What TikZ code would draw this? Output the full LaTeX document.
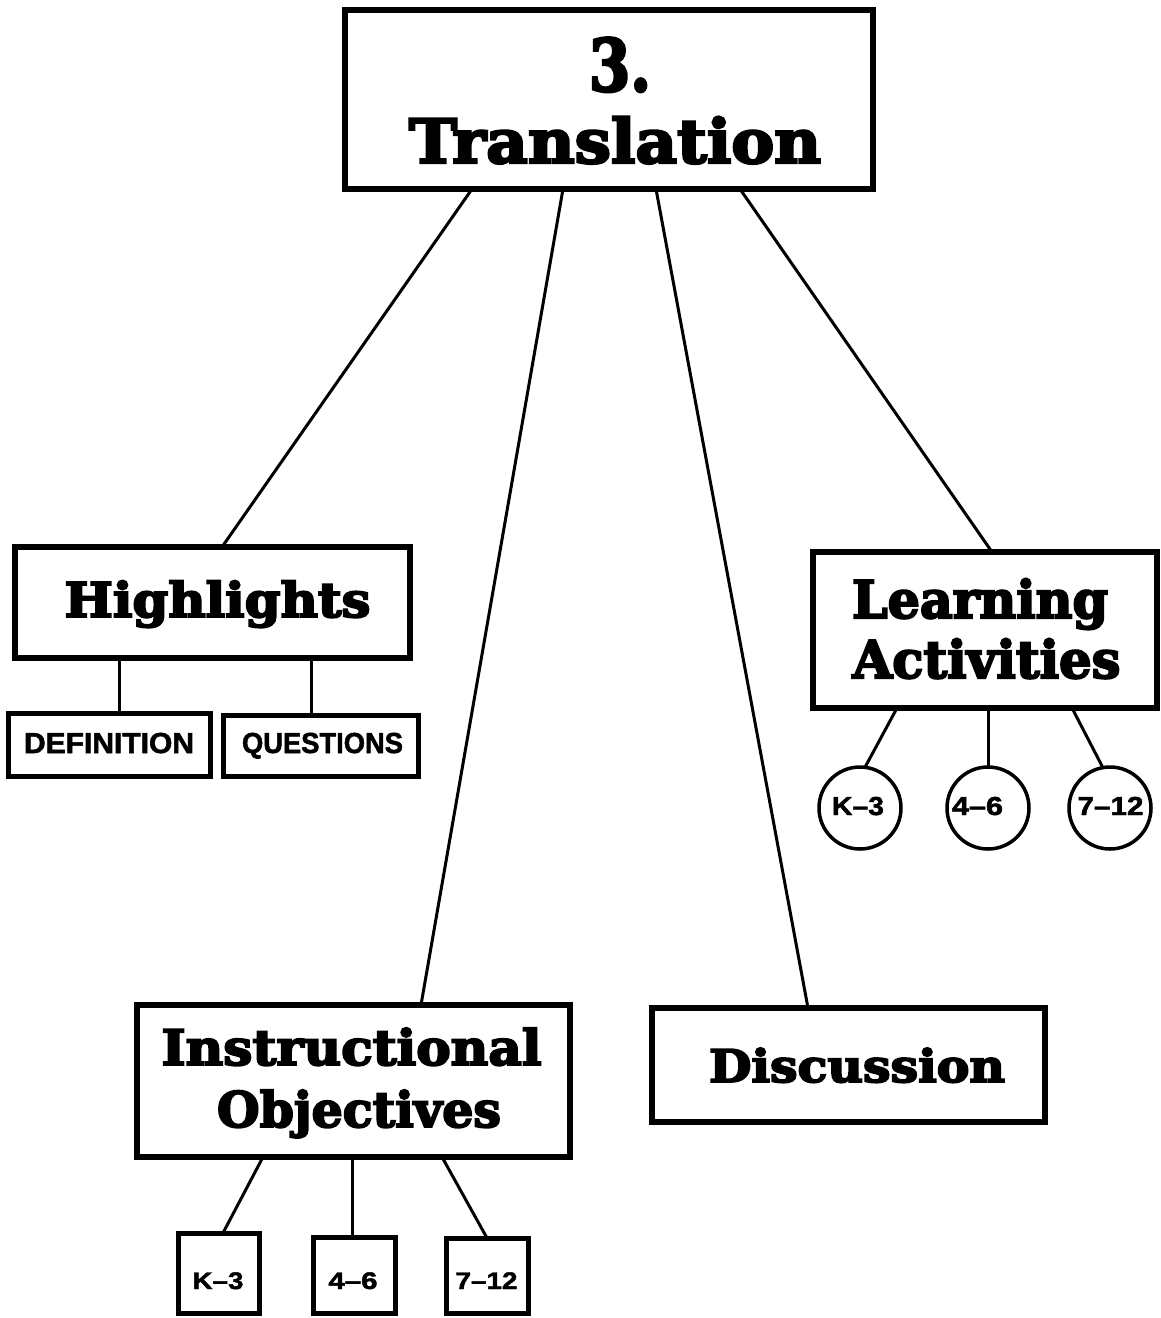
\documentclass[tikz,border=0pt]{standalone}
\usepackage{fontspec}
\usepackage{graphicx}
\usetikzlibrary{fit}
\newfontfamily\heavy{DejaVu Serif}[BoldFeatures={FakeBold=4}]
\newfontfamily\lsans{Liberation Sans}[BoldFeatures={FakeBold=1.8}]
\newcommand{\hv}[3]{\resizebox{#1pt}{\height}{\fontsize{#2}{#2}\selectfont\heavy\bfseries #3}}
\newcommand{\sn}[3]{\resizebox{#1pt}{\height}{\fontsize{#2}{#2}\selectfont\lsans\bfseries #3}}
\begin{document}
\begin{tikzpicture}[x=1pt,y=-1pt,
  box/.style={draw, rectangle, line width=5.5pt, inner sep=0pt, outer sep=0pt},
  sbox/.style={draw, rectangle, line width=5pt, inner sep=0pt, outer sep=0pt},
  circ/.style={draw, circle, line width=3.5pt, minimum size=82pt, inner sep=0pt, outer sep=0pt},
  conn/.style={line width=3pt},
  lbl/.style={inner sep=0pt, outer sep=0pt, anchor=base}]
\fill[white] (0,0) rectangle (1161,1318);
\useasboundingbox (0,0) rectangle (1161,1318);
% boxes
\node[box, fit={(345,10)(873,189)}] (main) {};
\node[box, fit={(15,547)(410,658)}] (hl) {};
\node[sbox, fit={(8,713)(210,776)}] (def) {};
\node[sbox, fit={(223,715)(418,776)}] (que) {};
\node[box, fit={(813,552)(1157,708)}] (la) {};
\node[circ] (c1) at (860,808) {};
\node[circ] (c2) at (988,808) {};
\node[circ] (c3) at (1110,808) {};
\node[box, fit={(137,1005)(570,1157)}] (io) {};
\node[sbox, fit={(178,1233)(259,1313)}] (s1) {};
\node[sbox, fit={(313,1237)(395,1313)}] (s2) {};
\node[sbox, fit={(446,1238)(528,1313)}] (s3) {};
\node[box, fit={(652,1008)(1045,1122)}] (dis) {};
% texts
\node[lbl] (t3) at (620,91) {\hv{62}{72}{3.}};
\node[lbl] (ttr) at (615,163) {\hv{412}{61}{Translation}};
\node[lbl] (thl) at (217.5,617) {\hv{306}{48}{Highlights}};
\node[lbl] (tle) at (980,618) {\hv{256}{52}{Learning}};
\node[lbl] (tac) at (986.5,678) {\hv{268}{52}{Activities}};
\node[lbl] (tin) at (351.5,1065) {\hv{380}{49}{Instructional}};
\node[lbl] (tob) at (359,1127) {\hv{284}{49}{Objectives}};
\node[lbl] (tdi) at (857,1082) {\hv{296}{45}{Discussion}};
\node[lbl] (tdef) at (109,753) {\sn{170}{29}{DEFINITION}};
\node[lbl] (tque) at (322.5,753) {\sn{161}{29}{QUESTIONS}};
\node[lbl] (tc1) at (858,815) {\sn{52}{26}{K–3}};
\node[lbl] (tc2) at (977.5,815) {\sn{51}{26}{4–6}};
\node[lbl] (tc3) at (1110.5,815) {\sn{66}{26}{7–12}};
\node[lbl] (ts1) at (218,1289) {\sn{51}{24}{K–3}};
\node[lbl] (ts2) at (353,1289) {\sn{49}{24}{4–6}};
\node[lbl] (ts3) at (486.5,1289) {\sn{62}{24}{7–12}};
% connectors
\draw[conn] (main.south -| 472,0) -- (hl.north -| 222,0);
\draw[conn] (main.south -| 563,0) -- (io.north -| 421,0);
\draw[conn] (main.south -| 656,0) -- (dis.north -| 808,0);
\draw[conn] (main.south -| 740,0) -- (la.north -| 992,0);
\draw[conn] (hl.south -| 119,0) -- (def.north -| 119,0);
\draw[conn] (hl.south -| 311,0) -- (que.north -| 311,0);
\draw[conn] (la.south -| 897,0) -- (c1.83);
\draw[conn] (la.south -| 988,0) -- (c2.north);
\draw[conn] (la.south -| 1072,0) -- (c3.100);
\draw[conn] (io.south -| 263,0) -- (s1.north -| 223,0);
\draw[conn] (io.south -| 352,0) -- (s2.north -| 352,0);
\draw[conn] (io.south -| 442,0) -- (s3.north -| 487,0);
\end{tikzpicture}
\end{document}
